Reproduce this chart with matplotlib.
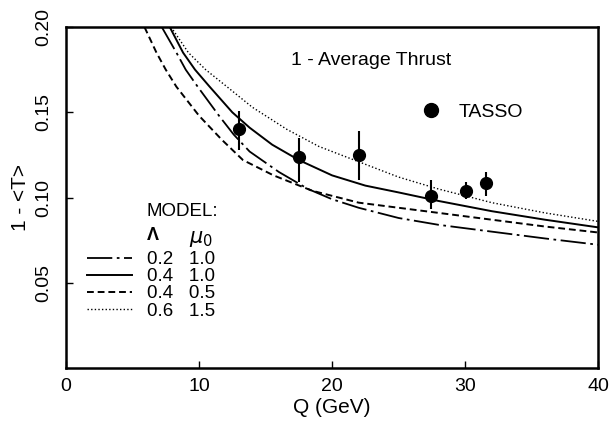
import numpy as np
import matplotlib.pyplot as plt
from matplotlib.lines import Line2D

plt.rcParams['font.family'] = ['Liberation Sans', 'DejaVu Sans']

# TASSO data
q_data = [13.0, 17.5, 22.0, 27.4, 30.1, 31.6]
t_data = [0.140, 0.1235, 0.1247, 0.101, 0.104, 0.1085]
err_lo = [0.012, 0.0145, 0.0142, 0.008, 0.0046, 0.0075]
err_hi = [0.011, 0.0115, 0.0143, 0.009, 0.005, 0.0065]

# model curves
q_a = [7.2, 8.3, 9.0, 9.9, 11.5, 12.6, 13.8, 16.0, 18.2, 20.0, 22.0, 25.0, 28.0, 32.0, 36.0, 40.0]
t_a = [0.200, 0.185, 0.175, 0.165, 0.148, 0.137, 0.127, 0.115, 0.105, 0.099, 0.094, 0.088, 0.084, 0.080, 0.076, 0.0723]

q_b = [7.8, 8.8, 9.7, 10.8, 12.5, 13.8, 15.5, 17.5, 20.0, 22.5, 25.0, 28.0, 32.0, 36.0, 40.0]
t_b = [0.200, 0.185, 0.175, 0.165, 0.150, 0.141, 0.131, 0.122, 0.113, 0.107, 0.103, 0.098, 0.092, 0.087, 0.0825]

q_c = [5.9, 6.8, 7.5, 8.3, 10.0, 11.7, 13.3, 15.6, 18.5, 22.0, 25.0, 28.0, 32.0, 36.0, 40.0]
t_c = [0.200, 0.185, 0.175, 0.165, 0.148, 0.134, 0.122, 0.113, 0.104, 0.097, 0.094, 0.091, 0.087, 0.083, 0.0795]

q_d = [7.9, 9.2, 10.5, 12.1, 14.0, 16.6, 19.0, 22.0, 25.0, 28.0, 32.0, 36.0, 40.0]
t_d = [0.200, 0.185, 0.175, 0.165, 0.153, 0.140, 0.130, 0.121, 0.112, 0.105, 0.097, 0.091, 0.086]

labels = ['0.2   1.0', '0.4   1.0', '0.4   0.5', '0.6   1.5']

fig = plt.figure(figsize=(6.11, 4.23), dpi=100)
ax = fig.add_axes([0.108, 0.130, 0.871, 0.806])

l1, = ax.plot(q_a, t_a, color='black', lw=1.3, dashes=(14, 2.5, 1.5, 2.5))
l2, = ax.plot(q_b, t_b, color='black', lw=1.4, ls='-')
l3, = ax.plot(q_c, t_c, color='black', lw=1.4, dashes=(3.5, 2))
l4, = ax.plot(q_d, t_d, color='black', lw=1.0, dashes=(1, 1.6))

ax.errorbar(q_data, t_data, yerr=[err_lo, err_hi], fmt='o', color='black',
            ms=8.5, elinewidth=1.5, capsize=0)

ax.set_xlim(0, 40)
ax.set_ylim(0, 0.20)
ax.set_xticks([0, 10, 20, 30, 40])
ax.set_yticks([0.05, 0.10, 0.15, 0.20])
ax.set_yticklabels(['0.05', '0.10', '0.15', '0.20'], rotation=90, va='center')
ax.tick_params(direction='in', length=5, width=1, labelsize=14)
ax.tick_params(axis='y', pad=10)
ax.tick_params(axis='x', pad=7)
for s in ax.spines.values():
    s.set_linewidth(1.8)

ax.set_xlabel('Q (GeV)', fontsize=15, labelpad=2)
ax.set_ylabel('1 - <T>', fontsize=15, labelpad=4)

ax.text(0.573, 0.903, '1 - Average Thrust', transform=ax.transAxes,
        ha='center', va='center', fontsize=14)

leg1 = ax.legend([l1, l2, l3, l4], labels, loc='upper left',
                 bbox_to_anchor=(0.025, 0.365), frameon=False, fontsize=13.5,
                 handlelength=2.4, handletextpad=0.8, labelspacing=0.0,
                 borderaxespad=0)
ax.add_artist(leg1)
ax.text(0.152, 0.458, 'MODEL:', transform=ax.transAxes, fontsize=13.5, va='center')
ax.text(0.152, 0.39, 'Λ', transform=ax.transAxes, fontsize=13, va='center',
        fontweight='bold')
ax.text(0.232, 0.378, r'$\mu_0$', transform=ax.transAxes, fontsize=15, va='center')

tasso = Line2D([], [], marker='o', color='black', ls='none', ms=10)
ax.legend([tasso], ['TASSO'], loc='center left', bbox_to_anchor=(0.635, 0.75),
          frameon=False, fontsize=14, handletextpad=0.4, borderaxespad=0)

fig.savefig('out.png', dpi=100)
